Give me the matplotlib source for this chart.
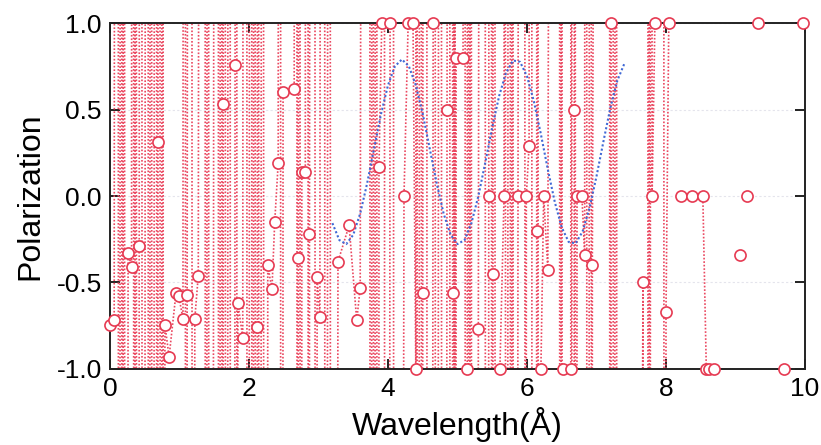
import numpy as np
import matplotlib.pyplot as plt

plt.rcParams['font.family'] = ['Liberation Sans', 'DejaVu Sans']

# measured polarization points that fall inside the plotted window
pol_x = [0.00, 0.06, 0.26, 0.31, 0.42, 0.69, 0.79, 0.85, 0.95, 0.99, 1.05, 1.11,
         1.22, 1.27, 1.63, 1.80, 1.84, 1.91, 2.12, 2.27, 2.33, 2.37, 2.42, 2.49,
         2.65, 2.71, 2.76, 2.81, 2.87, 2.98, 3.02, 3.28, 3.44, 3.55, 3.60, 3.87,
         3.91, 4.03, 4.23, 4.29, 4.36, 4.40, 4.50, 4.65, 4.85, 4.93, 4.98, 5.08,
         5.14, 5.30, 5.45, 5.51, 5.61, 5.67, 5.87, 5.99, 6.03, 6.14, 6.20, 6.24,
         6.30, 6.52, 6.63, 6.68, 6.72, 6.79, 6.83, 6.94, 7.21, 7.67, 7.80, 7.84,
         8.00, 8.04, 8.21, 8.37, 8.53, 8.58, 8.62, 8.69, 9.06, 9.17, 9.32, 9.70,
         9.97]
pol_y = [-0.745, -0.72, -0.33, -0.41, -0.29, 0.31, -0.745, -0.93, -0.56, -0.58, -0.71, -0.57,
         -0.71, -0.46, 0.53, 0.76, -0.62, -0.82, -0.76, -0.40, -0.54, -0.15, 0.19, 0.60,
         0.62, -0.36, 0.14, 0.14, -0.22, -0.47, -0.70, -0.38, -0.17, -0.72, -0.53, 0.17,
         1.0, 1.0, 0.0, 1.0, 1.0, -1.0, -0.56, 1.0, 0.50, -0.56, 0.80, 0.80,
         -1.0, -0.77, 0.0, -0.45, -1.0, 0.0, 0.0, 0.0, 0.29, -0.20, -1.0, 0.0,
         -0.43, -1.0, -1.0, 0.50, 0.0, 0.0, -0.34, -0.40, 1.0, -0.50, 0.0, 1.0,
         -0.67, 1.0, 0.0, 0.0, 0.0, -1.0, -1.0, -1.0, -0.34, 0.0, 1.0, -1.0,
         1.0]

# points that blow up far outside +/-1
spike_x = [0.11, 0.13, 0.16, 0.18, 0.20, 0.22, 0.33, 0.35, 0.37, 0.39, 0.45, 0.47,
           0.54, 0.56, 0.59, 0.61, 0.66, 0.68, 0.71, 0.73, 0.76, 0.77, 1.08, 1.09,
           1.17, 1.19, 1.36, 1.38, 1.41, 1.43, 1.55, 1.57, 1.60, 1.62, 1.65, 1.67,
           1.72, 1.74, 1.82, 1.83, 1.96, 1.98, 2.03, 2.05, 2.08, 2.10, 2.13, 2.15,
           2.20, 2.22, 2.45, 2.46, 2.68, 2.70, 2.73, 2.74, 2.84, 2.86, 2.94, 2.96,
           3.08, 3.10, 3.16, 3.18, 3.73, 3.75, 3.78, 3.80, 3.83, 3.85, 3.94, 3.96,
           4.07, 4.09, 4.41, 4.43, 4.47, 4.49, 4.55, 4.57, 4.67, 4.69, 4.76, 4.78,
           4.88, 4.90, 4.94, 4.955, 4.96, 4.97, 5.10, 5.12, 5.15, 5.17, 5.19, 5.21,
           5.39, 5.41, 5.48, 5.50, 5.53, 5.55, 5.68, 5.70, 5.75, 5.77, 5.79, 5.81,
           5.96, 5.98, 6.06, 6.08, 6.15, 6.17, 6.46, 6.48, 6.50, 6.51, 6.64, 6.65,
           6.69, 6.70, 6.85, 6.87, 6.92, 6.93, 7.18, 7.20, 7.23, 7.25, 7.28, 7.30,
           7.73, 7.75, 7.77, 7.78, 7.96, 7.98]
spike_y = [30, -30, 30, -30, 30, -30, 30, -30, 30, -30, 30, -30,
           30, -30, 30, -30, 30, -30, 30, -30, 30, -30, 30, -30,
           30, -30, 30, -30, 30, -30, 30, -30, 30, -30, 30, -30,
           30, -30, 30, -30, 30, -30, 30, -30, 30, -30, 30, -30,
           30, -30, 30, -30, 30, -30, 30, -30, 30, -30, 30, -30,
           30, -30, 30, -30, 30, -30, 30, -30, 30, -30, 30, -30,
           30, -30, 30, -30, 30, -30, 30, -30, 30, -30, 30, -30,
           30, -30, 30, -30, 30, -30, 30, -30, 30, -30, 30, -30,
           30, -30, 30, -30, 30, -30, 30, -30, 30, -30, 30, -30,
           30, -30, 30, -30, 30, -30, 30, -30, 30, -30, 30, -30,
           30, -30, 30, -30, 30, -30, 30, -30, 30, -30, 30, -30,
           -30, 30, -30, 30, 30, -30]

# breaks in the trace
gap_x = [8.12, 8.90, 9.10, 9.25, 9.50, 9.85]

# fitted model curve
fit_x = [3.2, 3.3, 3.4, 3.5, 3.6, 3.7, 3.8, 3.9, 4.0, 4.1, 4.2, 4.3, 4.4, 4.5,
         4.6, 4.7, 4.8, 4.9, 5.0, 5.1, 5.2, 5.3, 5.4, 5.5, 5.6, 5.7, 5.8, 5.9,
         6.0, 6.1, 6.2, 6.3, 6.4, 6.5, 6.6, 6.7, 6.8, 6.9, 7.0, 7.1, 7.2, 7.3, 7.4]
fit_y = [-0.157, -0.255, -0.278, -0.224, -0.101, 0.074, 0.275, 0.475, 0.641, 0.751,
         0.790, 0.751, 0.641, 0.475, 0.275, 0.074, -0.101, -0.224, -0.278, -0.255,
         -0.157, -0.001, 0.194, 0.397, 0.580, 0.715, 0.784, 0.776, 0.693, 0.546,
         0.357, 0.153, -0.035, -0.182, -0.266, -0.274, -0.205, -0.069, 0.114, 0.316,
         0.511, 0.668, 0.765]

xs = np.concatenate([pol_x, spike_x, gap_x])
ys = np.concatenate([pol_y, spike_y, np.full(len(gap_x), np.nan)])
order = np.argsort(xs, kind='stable')
xs, ys = xs[order], ys[order]

fig = plt.figure(figsize=(8.21, 4.45), dpi=100)
ax = fig.add_axes([0.134, 0.171, 0.8465, 0.777])

ax.grid(axis='y', color='#e4e4ec', linestyle=(0, (2, 2)), linewidth=0.8)
ax.set_axisbelow(True)

red = '#e63a52'
ax.plot(xs, ys, color='#ea4860', linestyle=(0, (1, 1.1)), linewidth=1.2, zorder=2)
ax.plot(pol_x, pol_y, linestyle='none', marker='o', markersize=8,
        markerfacecolor='white', markeredgecolor=red, markeredgewidth=1.2,
        clip_on=False, zorder=4)
ax.plot(fit_x, fit_y, color='#4069d6', linestyle=(0, (1, 1.1)), linewidth=1.5, zorder=3)

ax.set_xlim(0, 10)
ax.set_ylim(-1, 1)
ax.set_xticks([0, 2, 4, 6, 8, 10])
ax.set_yticks([-1.0, -0.5, 0.0, 0.5, 1.0])
ax.set_yticklabels(['-1.0', '-0.5', '0.0', '0.5', '1.0'])
ax.tick_params(direction='in', length=7, width=1.4, top=True, right=True,
               labelsize=19, pad=6, color='#222222')
for s in ax.spines.values():
    s.set_linewidth(1.4)
    s.set_color('#222222')

ax.set_xlabel('Wavelength(Å)', fontsize=23, labelpad=4)
ax.set_ylabel('Polarization', fontsize=23, labelpad=8)

fig.savefig('out.png', dpi=100)
